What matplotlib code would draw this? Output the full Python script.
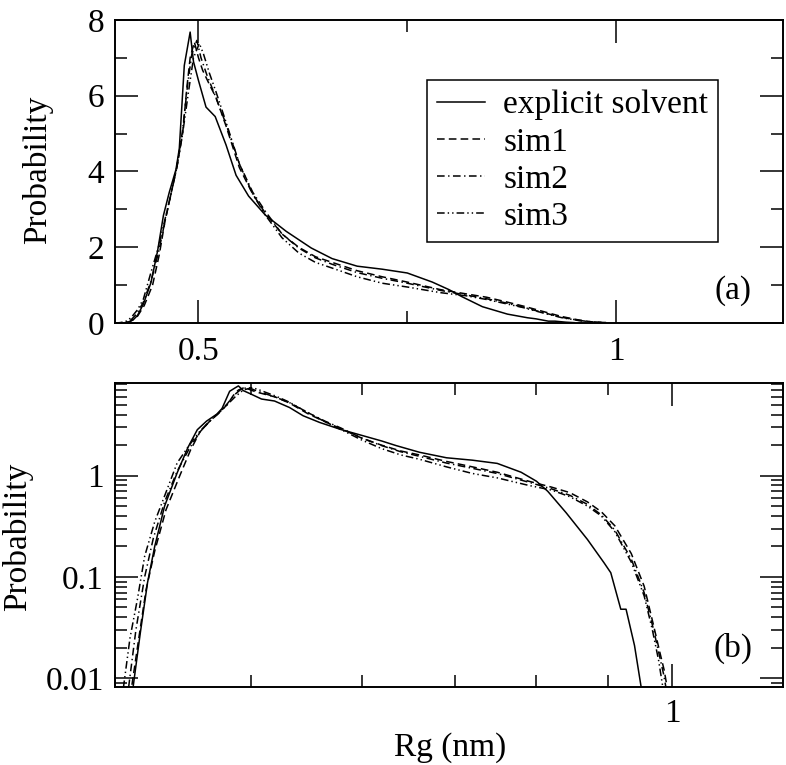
import matplotlib
matplotlib.use("Agg")
import matplotlib.pyplot as plt
from matplotlib.ticker import MultipleLocator, LogLocator, NullFormatter, FixedLocator, FixedFormatter

plt.rcParams['font.family'] = ['Liberation Serif', 'DejaVu Serif']
plt.rcParams['lines.scale_dashes'] = False

# Rg (nm) and probability
x_es = [0.400, 0.405, 0.410, 0.412, 0.417, 0.422, 0.427, 0.434, 0.443, 0.451, 0.458,
        0.465, 0.473, 0.477, 0.483, 0.487, 0.490, 0.494, 0.500, 0.509, 0.520, 0.533,
        0.545, 0.560, 0.580, 0.605, 0.620, 0.635, 0.660, 0.690, 0.720, 0.750, 0.780,
        0.800, 0.815, 0.840, 0.870, 0.894, 0.904, 0.919, 0.927, 0.940, 0.950]
y_es = [0.001, 0.003, 0.006, 0.008, 0.028, 0.088, 0.20, 0.50, 1.06, 1.9, 2.84,
        3.45, 4.05, 4.6, 6.8, 7.3, 7.68, 6.9, 6.4, 5.7, 5.45, 4.7,
        3.9, 3.35, 2.85, 2.42, 2.2, 1.98, 1.7, 1.5, 1.42, 1.32, 1.08,
        0.88, 0.70, 0.43, 0.234, 0.138, 0.11, 0.048, 0.048, 0.021, 0.0084]

x_sim1 = [0.400, 0.406, 0.411, 0.416, 0.421, 0.427, 0.435, 0.445, 0.453, 0.460, 0.467,
          0.474, 0.481, 0.486, 0.490, 0.495, 0.500, 0.505, 0.513, 0.521, 0.533, 0.549,
          0.565, 0.580, 0.600, 0.620, 0.640, 0.660, 0.690, 0.720, 0.750, 0.790, 0.820,
          0.845, 0.870, 0.890, 0.910, 0.935, 0.955, 0.970, 0.980, 0.987, 0.992]
y_sim1 = [0.001, 0.004, 0.008, 0.025, 0.075, 0.18, 0.46, 1.0, 1.8, 2.7, 3.4,
          4.1, 5.0, 6.2, 7.0, 7.42, 7.0, 6.67, 6.3, 5.95, 5.2, 4.1,
          3.4, 2.9, 2.35, 2.0, 1.75, 1.6, 1.38, 1.22, 1.08, 0.88, 0.77,
          0.68, 0.55, 0.44, 0.32, 0.17, 0.081, 0.033, 0.018, 0.012, 0.008]

x_sim2 = [0.400, 0.405, 0.409, 0.414, 0.420, 0.426, 0.434, 0.443, 0.452, 0.460, 0.467,
          0.474, 0.481, 0.487, 0.492, 0.498, 0.503, 0.510, 0.520, 0.533, 0.549, 0.565,
          0.580, 0.600, 0.620, 0.640, 0.660, 0.690, 0.720, 0.750, 0.790, 0.820, 0.845,
          0.870, 0.890, 0.910, 0.935, 0.955, 0.970, 0.980, 0.986, 0.990]
y_sim2 = [0.001, 0.004, 0.008, 0.03, 0.10, 0.24, 0.55, 1.1, 1.85, 2.7, 3.4,
          4.1, 5.1, 6.3, 7.1, 7.46, 7.0, 6.55, 6.0, 5.25, 4.2, 3.45,
          2.95, 2.35, 1.98, 1.72, 1.55, 1.33, 1.18, 1.05, 0.86, 0.74, 0.64,
          0.52, 0.41, 0.29, 0.15, 0.07, 0.03, 0.016, 0.011, 0.008]

x_sim3 = [0.400, 0.403, 0.406, 0.410, 0.415, 0.420, 0.427, 0.434, 0.443, 0.452, 0.460,
          0.467, 0.474, 0.481, 0.488, 0.494, 0.501, 0.506, 0.513, 0.521, 0.533, 0.549,
          0.565, 0.580, 0.600, 0.620, 0.640, 0.660, 0.690, 0.720, 0.750, 0.790, 0.820,
          0.845, 0.870, 0.890, 0.910, 0.935, 0.955, 0.968, 0.978, 0.985]
y_sim3 = [0.001, 0.004, 0.009, 0.025, 0.06, 0.16, 0.35, 0.63, 1.33, 2.0, 2.75,
          3.4, 4.1, 5.0, 6.1, 7.0, 7.38, 7.1, 6.6, 6.1, 5.3, 4.2,
          3.4, 2.85, 2.25, 1.85, 1.6, 1.45, 1.22, 1.05, 0.95, 0.80, 0.72,
          0.62, 0.50, 0.40, 0.28, 0.14, 0.065, 0.03, 0.015, 0.008]

labels = ["explicit solvent", "sim1", "sim2", "sim3"]
series = [(x_es, y_es), (x_sim1, y_sim1), (x_sim2, y_sim2), (x_sim3, y_sim3)]
styles = ['-', (0, (5.5, 3)), (0, (5.5, 2.5, 1, 2.5)), (0, (5.5, 2.2, 1, 2.2, 1, 2.2))]

fs = 24
fig = plt.figure(figsize=(7.86, 7.65), dpi=100)
ax1 = fig.add_axes([0.1463, 0.5778, 0.8499, 0.3961])
ax2 = fig.add_axes([0.1463, 0.1020, 0.8499, 0.3973])

for (x, y), ls, lab in zip(series, styles, labels):
    ax1.plot(x, y, color='black', lw=1.1, linestyle=ls, label=lab)
    ax2.plot(x, y, color='black', lw=1.1, linestyle=ls)

for ax in (ax1, ax2):
    for s in ax.spines.values():
        s.set_linewidth(1.4)
    ax.tick_params(which='both', direction='in', top=True, right=True, width=1.1,
                   labelsize=fs)
    ax.tick_params(which='major', length=16.5)
    ax.tick_params(which='minor', length=8.5)
    ax.set_xlim(0.4, 1.2)

# (a) linear
ax1.set_ylim(0, 8)
ax1.xaxis.set_major_locator(FixedLocator([0.5, 1.0]))
ax1.xaxis.set_major_formatter(FixedFormatter(["0.5", "1"]))
ax1.xaxis.set_minor_locator(FixedLocator([0.75]))
ax1.yaxis.set_major_locator(MultipleLocator(2))
ax1.yaxis.set_minor_locator(MultipleLocator(1))
ax1.tick_params(axis='x', pad=10)
ax1.tick_params(axis='y', pad=8)
ax1.set_ylabel("Probability", fontsize=fs)
ax1.yaxis.set_label_coords(-0.093, 0.505)
ax1.text(0.925, 0.106, "(a)", transform=ax1.transAxes, fontsize=fs,
         ha='center', va='center')
leg = ax1.legend(loc='upper right', bbox_to_anchor=(0.903, 0.802), borderaxespad=0,
                 fontsize=fs, frameon=True, fancybox=False, framealpha=1,
                 edgecolor='black', handlelength=1.45, handletextpad=0.55,
                 labelspacing=0.2, borderpad=0.3)
leg.get_frame().set_linewidth(1.1)

# (b) log-log
ax2.set_xscale('log')
ax2.set_yscale('log')
ax2.set_ylim(0.0082, 8.2)
ax2.xaxis.set_major_locator(FixedLocator([1.0]))
ax2.xaxis.set_major_formatter(FixedFormatter(["1"]))
ax2.xaxis.set_minor_locator(LogLocator(subs=range(2, 10)))
ax2.xaxis.set_minor_formatter(NullFormatter())
ax2.yaxis.set_major_locator(FixedLocator([0.01, 0.1, 1]))
ax2.yaxis.set_major_formatter(FixedFormatter(["0.01", "0.1", "1"]))
ax2.yaxis.set_minor_locator(LogLocator(subs=range(2, 10)))
ax2.yaxis.set_minor_formatter(NullFormatter())
ax2.tick_params(axis='x', pad=8)
ax2.tick_params(axis='y', pad=8)
ax2.set_ylabel("Probability", fontsize=fs)
ax2.yaxis.set_label_coords(-0.123, 0.493)
ax2.set_xlabel("Rg (nm)", fontsize=fs)
ax2.xaxis.set_label_coords(0.5015, -0.148)
ax2.text(0.925, 0.128, "(b)", transform=ax2.transAxes, fontsize=fs,
         ha='center', va='center')

fig.savefig("out.png", dpi=100)
